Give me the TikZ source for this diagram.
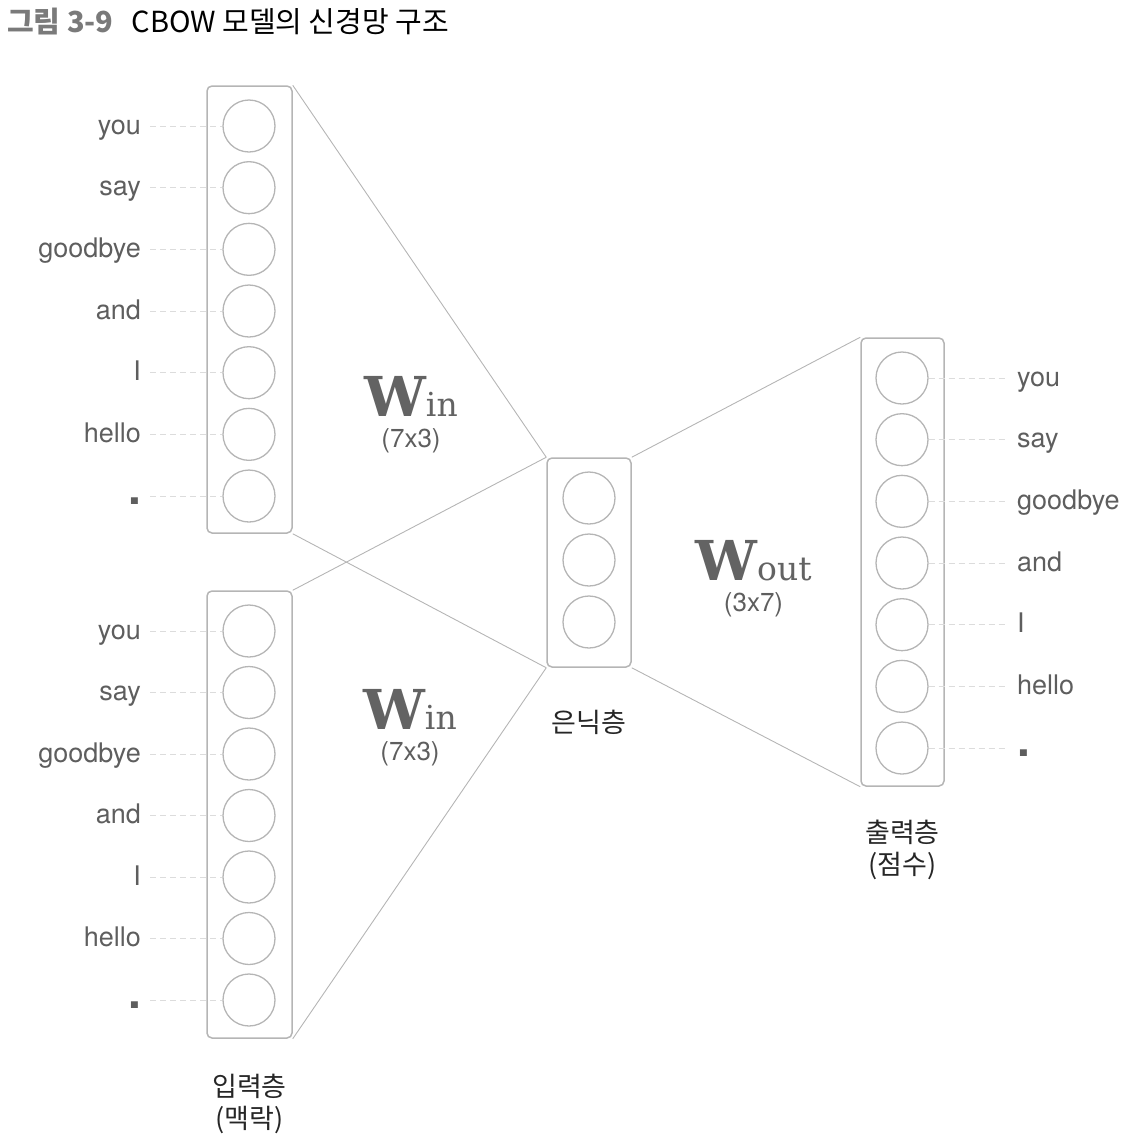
\documentclass[tikz,border=0pt]{standalone}
\usepackage{fontspec}
\setmainfont{TeX Gyre Heros}
\newfontfamily\krfont{Noto Sans CJK KR}
\newfontfamily\wfont{DejaVu Serif}
\usetikzlibrary{positioning}

\definecolor{linegray}{HTML}{B5B5B5}
\definecolor{dashgray}{HTML}{DCDCDC}
\definecolor{wordgray}{HTML}{5E5E5E}
\definecolor{wgray}{HTML}{636363}
\definecolor{titlegray}{HTML}{7A7A7A}
\definecolor{krblack}{HTML}{262626}

\newcommand\eos{{\fontsize{46}{46}\selectfont\bfseries .}}
\newcommand\wlab[1]{{\wfont\bfseries\fontsize{55}{55}\selectfont W}{\wfont\fontsize{33}{33}\selectfont #1}}

\tikzset{
  layer/.style={draw=linegray, line width=1.5pt, rounded corners=5pt, minimum width=85pt},
  unit/.style={draw=linegray, line width=1.3pt, circle, minimum size=52pt, inner sep=0pt},
  word/.style={text=wordgray, font=\fontsize{27}{30}\selectfont, text height=21pt, text depth=5pt},
  link/.style={draw=linegray, line width=0.9pt},
  guide/.style={draw=dashgray, dash pattern=on 6pt off 4pt, line width=0.9pt},
  dim/.style={text=wordgray, font=\fontsize{26}{28}\selectfont, inner sep=0pt},
  kr/.style={text=krblack, font=\krfont\fontsize{27}{32}\selectfont, align=center, inner sep=0pt},
}

\begin{document}
\begin{tikzpicture}[x=1pt,y=-1pt]
\useasboundingbox (0,0) rectangle (1124,1144);

\node[anchor=base west, inner sep=0pt, font=\krfont\fontsize{29}{32}\selectfont] (title) at (7,32)
  {{\bfseries\color{titlegray}그림 3-9}\hspace{18pt}CBOW 모델의 신경망 구조};

\node[layer, minimum height=447pt] (inA) at (249.5,309.5) {};
\node[layer, minimum height=447pt] (inB) at (249.5,814.5) {};
\node[layer, minimum width=84pt, minimum height=209pt] (hid) at (589,562.5) {};
\node[layer, minimum width=83pt, minimum height=448pt] (outl) at (902.5,562) {};

\foreach \w [count=\i] in {you,say,goodbye,and,I,hello,\eos} {
  \pgfmathsetmacro\ya{126+61.67*(\i-1)}
  \pgfmathsetmacro\yb{631+61.5*(\i-1)}
  \pgfmathsetmacro\yc{378+61.67*(\i-1)}
  \node[unit] (inA\i) at (249,\ya) {};
  \node[unit] (inB\i) at (249,\yb) {};
  \node[unit] (out\i) at (902,\yc) {};
  \node[word, anchor=east, inner xsep=9pt] (wA\i) at (150,\ya) {\w};
  \node[word, anchor=east, inner xsep=9pt] (wB\i) at (150,\yb) {\w};
  \node[word, anchor=west, inner xsep=12pt] (wO\i) at (1005,\yc) {\w};
  \draw[guide] (wA\i.east) -- (inA\i.west);
  \draw[guide] (wB\i.east) -- (inB\i.west);
  \draw[guide] (out\i.east) -- (wO\i.west);
}
\foreach \i/\y in {1/498,2/560,3/622}
  \node[unit] (hid\i) at (589,\y) {};

\draw[link] (inA.north east) -- (hid.north west);
\draw[link] (inA.south east) -- (hid.south west);
\draw[link] (inB.north east) -- (hid.north west);
\draw[link] (inB.south east) -- (hid.south west);
\draw[link] (hid.north east) -- (outl.north west);
\draw[link] (hid.south east) -- (outl.south west);

\node[anchor=base, text=wgray, inner sep=0pt] (winA) at (411,416) {\wlab{in}};
\node[dim, below=12pt of winA] (dimA) {(7x3)};
\node[anchor=base, text=wgray, inner sep=0pt] (winB) at (410,729) {\wlab{in}};
\node[dim, below=12pt of winB] (dimB) {(7x3)};
\node[anchor=base, text=wgray, inner sep=0pt] (wout) at (753.5,580) {\wlab{out}};
\node[dim, below=12pt of wout] (dimO) {(3x7)};

\node[kr, below=42pt of hid] (hidlab) {은닉층};
\node[kr, below=33pt of outl] (outlab) {출력층\\(점수)};
\node[kr, below=35pt of inB] (inlab) {입력층\\(맥락)};
\end{tikzpicture}
\end{document}
